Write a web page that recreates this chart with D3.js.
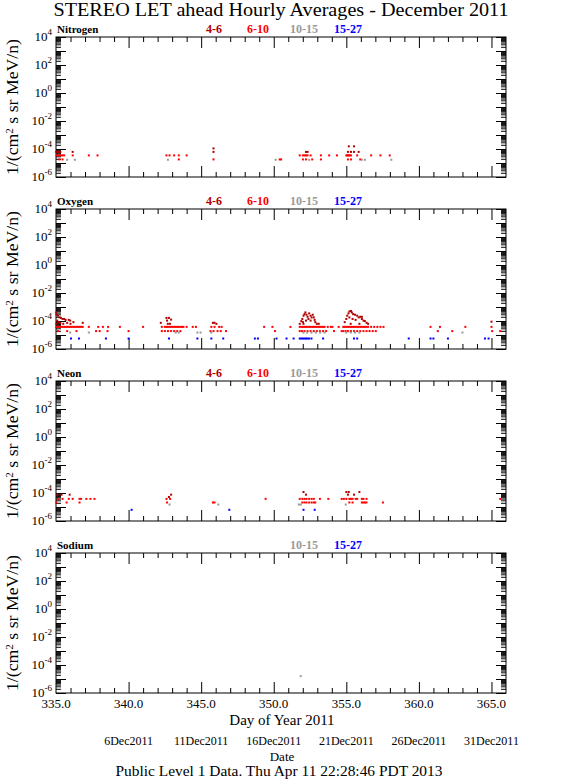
<!DOCTYPE html>
<html><head><meta charset="utf-8">
<script src="https://cdn.jsdelivr.net/npm/d3@7"></script>
<style>
body{margin:0;background:#fff;}
svg{display:block;}
text{font-family:"Liberation Serif","DejaVu Serif",serif;fill:#000;}
</style></head>
<body><svg id="c" width="561" height="780"></svg>
<script>
// ---------------- DATA ----------------
const title = "STEREO LET ahead Hourly Averages - December 2011";
const panelNames = ["Nitrogen","Oxygen","Neon","Sodium"];
const seriesNames = ["4-6","6-10","10-15","15-27"];
const seriesColors = ["#b00000","#ff0000","#999999","#0000ff"];
const xMajorTicks = [340,345,350,355,360,365];
const xLabelTicks = [335,340,345,350,355,360,365];
const xLabels = ["335.0","340.0","345.0","350.0","355.0","360.0","365.0"];
const dateTicks = [340,345,350,355,360,365];
const dateLabels = ["6Dec2011","11Dec2011","16Dec2011","21Dec2011","26Dec2011","31Dec2011"];
const yLabelExps = [4,2,0,-2,-4,-6];
const footer = "Public Level 1 Data. Thu Apr 11 22:28:46 PDT 2013";

// Nitrogen  [day of year, flux]
const nitrogen46 = [[335.02,6.2e-5],[335.13,6.2e-5],[335.2,6.2e-5],[335.3,6.2e-5],[336.15,6.2e-5],
 [345.85,6.2e-5],[352.22,6.2e-5],[352.33,6.2e-5],[355.11,6.2e-5],[355.32,6.2e-5],[355.53,6.2e-5],[355.85,6.2e-5],
 [345.85,1.1e-4],[355.17,1.55e-4],[355.53,1.55e-4]];
const nitrogen610 = [[335.05,3.5e-5],[335.15,3.5e-5],[335.25,3.5e-5],[335.35,3.5e-5],[335.45,3.5e-5],[335.56,3.5e-5],
 [336.15,3.5e-5],[337.26,3.5e-5],[337.86,3.5e-5],[342.61,3.5e-5],[342.82,3.5e-5],[343.14,3.5e-5],[343.46,3.5e-5],[344.0,3.5e-5],
 [351.79,3.5e-5],[352.01,3.5e-5],[352.12,3.5e-5],[352.22,3.5e-5],[352.33,3.5e-5],[352.54,3.5e-5],[353.25,3.5e-5],[353.82,3.5e-5],[354.36,3.5e-5],
 [355.0,3.5e-5],[355.06,3.5e-5],[355.11,3.5e-5],[355.17,3.5e-5],[355.22,3.5e-5],[355.32,3.5e-5],[355.75,3.5e-5],
 [356.71,3.5e-5],[357.35,3.5e-5],[357.99,3.5e-5],
 [335.24,1.8e-5],[335.45,1.8e-5],[343.46,1.8e-5],[345.85,1.8e-5],[350.41,1.8e-5],[350.51,1.8e-5],[352.01,1.8e-5],[352.22,1.8e-5],
 [352.65,1.8e-5],[353.25,1.8e-5],[355.11,1.8e-5],[355.32,1.8e-5],[355.96,1.8e-5]];
const nitrogen1015 = [[335.77,1.7e-5],[336.3,1.7e-5],[342.71,1.7e-5],[350.13,1.7e-5],[352.44,1.7e-5],[356.07,1.7e-5],[356.28,1.7e-5],[358.1,1.7e-5]];
const nitrogen1527 = [];

// Oxygen
const oxygen46 = [[335.02,4.1e-4],[335.04,2.8e-4],[335.13,2.4e-4],[335.24,1.8e-4],[335.34,1.66e-4],[335.45,1.4e-4],[335.56,1.4e-4],
 [335.66,1.2e-4],[335.88,1.2e-4],[335.98,1.07e-4],[335.09,1.07e-4],[335.17,8.3e-5],[335.3,7.1e-5],[335.02,6.3e-5],[335.77,7.4e-5],
 [336.2,8.3e-5],[336.84,7.4e-5],[335.5,6.3e-5],[336.0,6.3e-5],
 [342.61,1.66e-4],[342.78,1.66e-4],[342.93,1.26e-4],[342.65,1.07e-4],[342.22,7.4e-5],[342.7,6.3e-5],[342.85,6.3e-5],
 [345.81,7.4e-5],[345.92,7.4e-5],[346.05,6.3e-5],
 [351.79,6.3e-5],[351.9,9.8e-5],[351.97,1.4e-4],[352.05,2.4e-4],[352.12,3.1e-4],[352.18,4.1e-4],[352.26,2.8e-4],[352.33,2.0e-4],
 [352.44,3.5e-4],[352.54,2.4e-4],[352.61,1.8e-4],[352.69,2.8e-4],[352.76,1.8e-4],[352.82,1.2e-4],[352.01,8.3e-5],[352.22,1.07e-4],
 [352.39,1.4e-4],[352.54,1.07e-4],[352.86,8.3e-5],[352.97,6.3e-5],[352.05,6.3e-5],[353.1,6.3e-5],
 [354.89,8.3e-5],[355.0,1.4e-4],[355.06,2.4e-4],[355.15,3.5e-4],[355.21,4.8e-4],[355.32,5.2e-4],[355.38,4.1e-4],[355.47,3.1e-4],
 [355.6,2.8e-4],[355.75,2.4e-4],[355.85,1.8e-4],[355.96,2.0e-4],[356.07,1.4e-4],[356.18,1.07e-4],[356.28,9.8e-5],[356.5,6.3e-5],
 [355.21,1.8e-4],[355.43,1.4e-4],[355.64,1.2e-4],[356.07,2.0e-4],[355.3,6.3e-5],[355.9,6.3e-5],[356.4,7.4e-5],
 [365.0,8.9e-5]];
const oxygen610 = [[335.02,3.8e-5],[335.13,3.8e-5],[335.24,3.8e-5],[335.34,3.8e-5],[335.45,3.8e-5],[335.56,3.8e-5],[335.66,3.8e-5],
 [335.77,3.8e-5],[335.88,3.8e-5],[335.98,3.8e-5],[336.09,3.8e-5],[336.2,3.8e-5],[336.3,3.8e-5],[336.41,3.8e-5],[336.52,3.8e-5],
 [336.62,3.8e-5],[336.73,3.8e-5],[336.84,3.8e-5],[337.26,3.8e-5],[337.91,3.8e-5],[338.23,3.8e-5],[338.59,3.8e-5],[339.4,3.8e-5],[341.0,3.8e-5],
 [342.29,3.8e-5],[342.5,3.8e-5],[342.61,3.8e-5],[342.71,3.8e-5],[342.82,3.8e-5],[342.93,3.8e-5],[343.03,3.8e-5],[343.14,3.8e-5],
 [343.25,3.8e-5],[343.35,3.8e-5],[343.46,3.8e-5],[343.57,3.8e-5],[343.68,3.8e-5],[343.78,3.8e-5],[344.0,3.8e-5],[344.42,3.8e-5],[344.64,3.8e-5],
 [345.7,3.8e-5],[345.92,3.8e-5],[346.24,3.8e-5],[346.41,3.8e-5],[349.34,3.8e-5],[349.91,3.8e-5],[351.15,3.8e-5],
 [351.79,3.8e-5],[351.9,3.8e-5],[352.01,3.8e-5],[352.12,3.8e-5],[352.22,3.8e-5],[352.33,3.8e-5],[352.44,3.8e-5],[352.54,3.8e-5],
 [352.65,3.8e-5],[352.76,3.8e-5],[352.86,3.8e-5],[352.97,3.8e-5],[353.08,3.8e-5],[353.18,3.8e-5],[353.29,3.8e-5],[353.4,3.8e-5],
 [353.5,3.8e-5],[353.72,3.8e-5],[353.93,3.8e-5],[354.04,3.8e-5],[354.47,3.8e-5],
 [354.79,3.8e-5],[354.89,3.8e-5],[355.0,3.8e-5],[355.11,3.8e-5],[355.21,3.8e-5],[355.32,3.8e-5],[355.43,3.8e-5],[355.53,3.8e-5],
 [355.64,3.8e-5],[355.75,3.8e-5],[355.85,3.8e-5],[355.96,3.8e-5],[356.07,3.8e-5],[356.18,3.8e-5],[356.28,3.8e-5],[356.39,3.8e-5],
 [356.5,3.8e-5],[356.71,3.8e-5],[356.92,3.8e-5],[357.14,3.8e-5],[357.35,3.8e-5],[357.56,3.8e-5],
 [360.8,3.8e-5],[361.45,3.8e-5],[363.2,3.8e-5],[365.0,3.8e-5],
 [335.13,1.9e-5],[335.77,1.9e-5],[336.41,1.9e-5],[337.76,1.9e-5],[338.01,1.9e-5],[338.55,1.9e-5],[340.0,1.9e-5],
 [342.29,1.9e-5],[342.5,1.9e-5],[342.71,1.9e-5],[342.93,1.9e-5],[343.14,1.9e-5],[343.35,1.9e-5],[343.57,1.9e-5],
 [345.64,1.9e-5],[345.85,1.9e-5],[346.13,1.9e-5],[346.35,1.9e-5],[346.71,1.9e-5],[350.09,1.9e-5],
 [351.79,1.9e-5],[351.95,1.9e-5],[352.12,1.9e-5],[352.33,1.9e-5],[352.54,1.9e-5],[352.76,1.9e-5],[352.97,1.9e-5],[353.18,1.9e-5],
 [353.4,1.9e-5],[353.61,1.9e-5],[354.15,1.9e-5],[354.68,1.9e-5],
 [354.79,1.9e-5],[354.95,1.9e-5],[355.11,1.9e-5],[355.32,1.9e-5],[355.53,1.9e-5],[355.75,1.9e-5],[355.96,1.9e-5],[356.18,1.9e-5],
 [356.39,1.9e-5],[356.6,1.9e-5],[356.82,1.9e-5],[357.03,1.9e-5],
 [361.3,1.9e-5],[362.3,1.9e-5],[365.05,1.9e-5],[365.6,1.9e-5]];
const oxygen1015 = [[335.98,1.5e-5],[337.26,1.5e-5],[343.25,1.5e-5],[343.46,1.5e-5],[344.74,1.5e-5],[344.96,1.5e-5],[345.7,1.5e-5],
 [352.05,1.5e-5],[352.3,1.5e-5],[352.6,1.5e-5],[352.9,1.5e-5],[353.2,1.5e-5],[353.5,1.5e-5],
 [355.0,1.5e-5],[355.3,1.5e-5],[355.6,1.5e-5],[355.9,1.5e-5],[363.0,1.5e-5]];
const oxygen1527 = [[336.03,5.6e-6],[336.58,5.6e-6],[338.44,5.6e-6],[340.0,5.6e-6],[342.78,5.6e-6],[344.74,5.6e-6],[345.7,5.6e-6],
 [346.52,5.6e-6],[348.7,5.6e-6],[348.91,5.6e-6],[350.19,5.6e-6],[350.88,5.6e-6],[351.37,5.6e-6],
 [351.79,5.6e-6],[351.9,5.6e-6],[352.01,5.6e-6],[352.12,5.6e-6],[352.22,5.6e-6],[352.33,5.6e-6],[352.44,5.6e-6],[352.6,5.6e-6],
 [353.4,5.6e-6],[355.53,5.6e-6],[355.75,5.6e-6],[359.3,5.6e-6],[360.8,5.6e-6],[361.0,5.6e-6],[362.0,5.6e-6],[364.55,5.6e-6],[364.8,5.6e-6]];

// Neon
const neon46 = [[335.09,7.6e-5],[335.38,7.6e-5],[335.94,7.6e-5],[342.93,7.6e-5],[342.78,5.2e-5],
 [352.05,1.17e-4],[352.22,7.6e-5],[355.0,1.17e-4],[355.17,1.17e-4],[355.9,1.17e-4],[355.11,7.6e-5],[355.53,7.6e-5]];
const neon610 = [[335.13,3.8e-5],[335.45,3.8e-5],[335.88,3.8e-5],[336.15,3.8e-5],[336.62,3.8e-5],[336.73,3.8e-5],[337.09,3.8e-5],
 [337.37,3.8e-5],[337.65,3.8e-5],[342.61,3.8e-5],[342.86,3.8e-5],[349.44,3.8e-5],
 [351.79,3.8e-5],[351.97,3.8e-5],[352.12,3.8e-5],[352.26,3.8e-5],[352.44,3.8e-5],[352.61,3.8e-5],[352.76,3.8e-5],[353.18,3.8e-5],[353.76,3.8e-5],
 [354.68,3.8e-5],[354.83,3.8e-5],[355.0,3.8e-5],[355.21,3.8e-5],[355.32,3.8e-5],[355.43,3.8e-5],[355.64,3.8e-5],[355.75,3.8e-5],
 [356.07,3.8e-5],[356.18,3.8e-5],[356.39,3.8e-5],[365.6,3.8e-5],
 [335.02,2.1e-5],[335.73,2.1e-5],[336.62,2.1e-5],[342.65,2.1e-5],[345.81,2.1e-5],[345.92,2.1e-5],
 [351.97,2.1e-5],[352.12,2.1e-5],[352.26,2.1e-5],[352.44,2.1e-5],[352.61,2.1e-5],[352.76,2.1e-5],[352.86,2.1e-5],
 [355.21,2.1e-5],[355.43,2.1e-5],[356.07,2.1e-5],[356.18,2.1e-5],[356.28,2.1e-5],[356.39,2.1e-5],[357.52,2.1e-5]];
const neon1015 = [[342.82,1.5e-5],[346.18,1.5e-5],[351.73,1.5e-5],[351.86,1.5e-5],[354.96,1.5e-5]];
const neon1527 = [[340.21,6.3e-6],[346.94,6.3e-6],[352.05,6.3e-6],[352.82,6.3e-6]];

// Sodium
const sodium46 = [];
const sodium610 = [];
const sodium1015 = [[351.86,1.6e-5]];
const sodium1527 = [];

const panelData = [
  [nitrogen46, nitrogen610, nitrogen1015, nitrogen1527],
  [oxygen46, oxygen610, oxygen1015, oxygen1527],
  [neon46, neon610, neon1015, neon1527],
  [sodium46, sodium610, sodium1015, sodium1527]
];
const panelLegends = [[0,1,2,3],[0,1,2,3],[0,1,2,3],[2,3]];

// ---------------- DRAW ----------------
const svg = d3.select("#c");
const L = 56, R = 506, PH = 140;
const tops = [37, 209, 381, 553];
const x = d3.scaleLinear().domain([335, 366]).range([L, R]);

svg.append("text").attr("x", 281).attr("y", 16).attr("text-anchor", "middle")
  .attr("font-size", 18).attr("textLength", 455).attr("lengthAdjust", "spacingAndGlyphs").text(title);

const decades = d3.range(-6, 5).map(e => Math.pow(10, e));
const minors = [];
for (let e = -6; e < 4; e++) for (let m = 2; m <= 9; m++) minors.push(m * Math.pow(10, e));
const dayTicks = d3.range(336, 366).filter(d => d % 5 !== 0);

tops.forEach((top, pi) => {
  const g = svg.append("g");
  const y = d3.scaleLog().domain([1e-6, 1e4]).range([top + PH, top]);
  const mk = (axis, tr) => {
    const a = g.append("g").attr("transform", tr).call(axis);
    a.selectAll(".domain").remove();
    a.selectAll("text").remove();
    a.selectAll("line").attr("stroke", "#000").attr("stroke-width", 1);
  };
  mk(d3.axisLeft(y).tickValues(decades).tickSize(-10).tickFormat(""), `translate(${L},0)`);
  mk(d3.axisLeft(y).tickValues(minors).tickSize(-5).tickFormat(""), `translate(${L},0)`);
  mk(d3.axisRight(y).tickValues(decades).tickSize(-10).tickFormat(""), `translate(${R},0)`);
  mk(d3.axisRight(y).tickValues(minors).tickSize(-5).tickFormat(""), `translate(${R},0)`);
  mk(d3.axisBottom(x).tickValues(xMajorTicks).tickSize(-11).tickFormat(""), `translate(0,${top + PH})`);
  mk(d3.axisBottom(x).tickValues(dayTicks).tickSize(-5).tickFormat(""), `translate(0,${top + PH})`);
  mk(d3.axisTop(x).tickValues(xMajorTicks).tickSize(-11).tickFormat(""), `translate(0,${top})`);
  mk(d3.axisTop(x).tickValues(dayTicks).tickSize(-5).tickFormat(""), `translate(0,${top})`);
  g.append("rect").attr("x", L).attr("y", top).attr("width", R - L).attr("height", PH)
    .attr("fill", "none").attr("stroke", "#000").attr("stroke-width", 1);

  // y tick labels
  yLabelExps.forEach(e => {
    const t = g.append("text").attr("x", 52).attr("y", y(Math.pow(10, e)) + 4)
      .attr("text-anchor", "end").attr("font-size", 13);
    t.append("tspan").text("10");
    t.append("tspan").attr("dy", -6).attr("font-size", 9).text(String(e));
  });

  // y-axis title
  const yt = g.append("text").attr("transform", `translate(18,${top + PH / 2}) rotate(-90)`)
    .attr("text-anchor", "middle").attr("font-size", 16)
    .attr("textLength", 136).attr("lengthAdjust", "spacingAndGlyphs");
  yt.append("tspan").text("1/(cm");
  yt.append("tspan").attr("dy", -5).attr("font-size", 10).text("2");
  yt.append("tspan").attr("dy", 5).text(" s sr MeV/n)");

  // panel name and legend
  g.append("text").attr("x", 57).attr("y", top - 4).attr("font-size", 11).attr("font-weight", "bold").text(panelNames[pi]);
  const legX = [214, 258, 304, 348];
  panelLegends[pi].forEach(si => {
    g.append("text").attr("x", legX[si]).attr("y", top - 4).attr("text-anchor", "middle")
      .attr("font-size", 12).attr("font-weight", "bold")
      .style("fill", seriesColors[si]).text(seriesNames[si]);
  });

  // points
  panelData[pi].forEach((pts, si) => {
    g.append("g").selectAll("rect").data(pts).enter().append("rect")
      .attr("x", d => x(d[0]) - 1).attr("y", d => y(d[1]) - 1)
      .attr("width", 2).attr("height", 2).attr("fill", seriesColors[si]);
  });
});

// x labels below last panel
const bottom = tops[3] + PH;
xLabelTicks.forEach((d, i) => {
  svg.append("text").attr("x", x(d)).attr("y", bottom + 15).attr("text-anchor", "middle")
    .attr("font-size", 13).text(xLabels[i]);
});
svg.append("text").attr("x", 282).attr("y", 725).attr("text-anchor", "middle").attr("font-size", 15).text("Day of Year 2011");
dateTicks.forEach((d, i) => {
  svg.append("text").attr("x", x(d)).attr("y", 745).attr("text-anchor", "middle").attr("font-size", 12).text(dateLabels[i]);
});
svg.append("text").attr("x", 282).attr("y", 761).attr("text-anchor", "middle").attr("font-size", 13).text("Date");
svg.append("text").attr("x", 279).attr("y", 776).attr("text-anchor", "middle").attr("font-size", 14)
  .attr("textLength", 327).attr("lengthAdjust", "spacingAndGlyphs").text(footer);
</script></body></html>
